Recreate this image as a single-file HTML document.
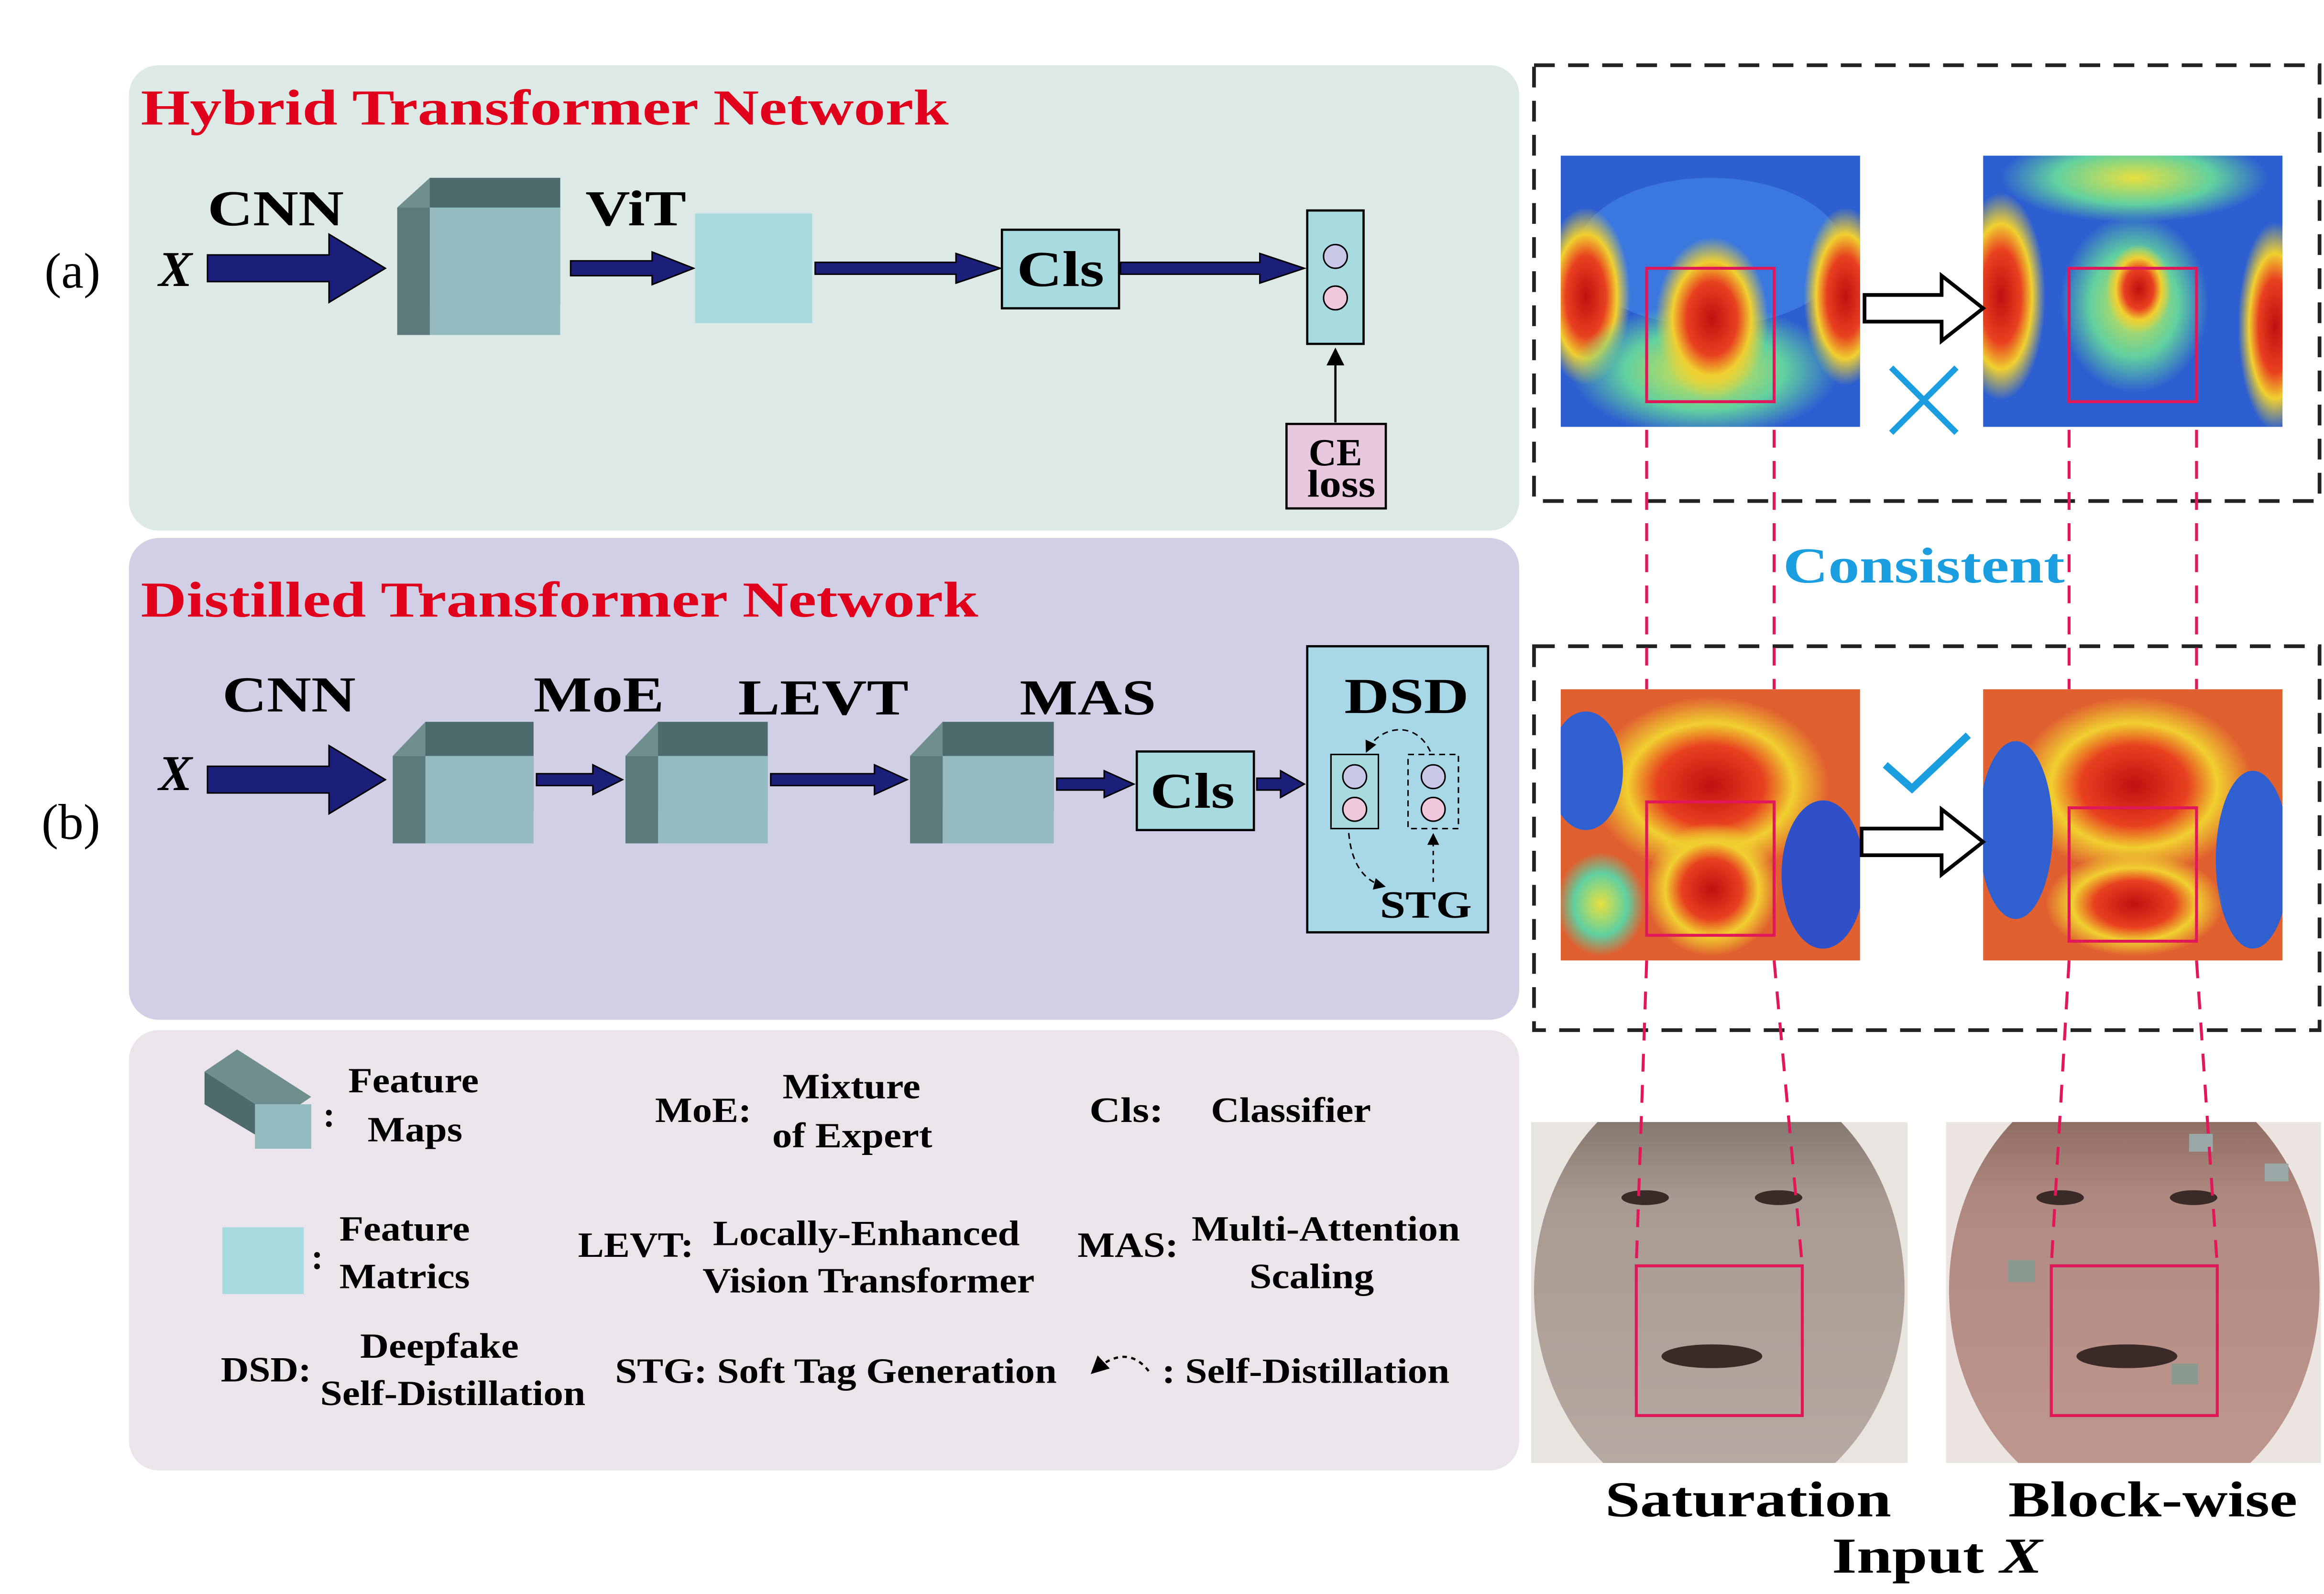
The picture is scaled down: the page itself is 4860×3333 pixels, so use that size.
<!DOCTYPE html>
<html><head><meta charset="utf-8"><style>
html,body{margin:0;padding:0;background:#fff;}
svg{display:block;}
text{font-family:"Liberation Serif",serif;font-weight:bold;}
</style></head><body>
<svg width="4860" height="3333" viewBox="0 0 1568 1075.4" preserveAspectRatio="none" xmlns="http://www.w3.org/2000/svg">
<defs>
<marker id="ah" markerWidth="8" markerHeight="8" refX="7" refY="4" orient="auto"><path d="M0,0 L8,4 L0,8 z" fill="#000"/></marker>
<radialGradient id="hr" cx="50%" cy="50%" r="50%"><stop offset="0" stop-color="#c01010"/><stop offset="0.45" stop-color="#e84020"/><stop offset="0.7" stop-color="#f0d030"/><stop offset="1" stop-color="#f0d030" stop-opacity="0"/></radialGradient>
<radialGradient id="hy" cx="50%" cy="50%" r="50%"><stop offset="0" stop-color="#e8e040"/><stop offset="0.6" stop-color="#60d0a0"/><stop offset="1" stop-color="#60d0a0" stop-opacity="0"/></radialGradient>
<linearGradient id="face" x1="0" y1="0" x2="0" y2="1"><stop offset="0" stop-color="#6e6258"/><stop offset="0.3" stop-color="#a89a90"/><stop offset="1" stop-color="#b8aca4"/></linearGradient>
<linearGradient id="face2" x1="0" y1="0" x2="0" y2="1"><stop offset="0" stop-color="#7a5a50"/><stop offset="0.3" stop-color="#b08a80"/><stop offset="1" stop-color="#c09890"/></linearGradient>
<clipPath id="c1"><rect x="1053" y="105" width="202" height="183"/></clipPath>
<clipPath id="c2"><rect x="1338" y="105" width="202" height="183"/></clipPath>
<clipPath id="c3"><rect x="1053" y="465" width="202" height="183"/></clipPath>
<clipPath id="c4"><rect x="1338" y="465" width="202" height="183"/></clipPath>
<clipPath id="f1"><rect x="1033" y="757" width="254" height="230"/></clipPath>
<clipPath id="f2"><rect x="1313" y="757" width="253" height="230"/></clipPath>
</defs>

<rect x="87" y="44" width="938" height="314" rx="20" fill="#dde9e6"/>
<rect x="87" y="363" width="938" height="325" rx="20" fill="#d1cfe5"/>
<rect x="87" y="695" width="938" height="297" rx="20" fill="#ebe4ea"/>

<text x="95" y="84" font-size="34" fill="#e0001b" textLength="545" lengthAdjust="spacingAndGlyphs">Hybrid Transformer Network</text>
<text x="95" y="416" font-size="34" fill="#e0001b" textLength="565" lengthAdjust="spacingAndGlyphs">Distilled Transformer Network</text>

<text x="30" y="194" font-size="34" style="font-weight:normal">(a)</text>
<text x="28" y="566" font-size="34" style="font-weight:normal">(b)</text>

<!-- panel a -->
<text x="140" y="152" font-size="34" textLength="92" lengthAdjust="spacingAndGlyphs">CNN</text>
<text x="107" y="193" font-size="34" font-style="italic">X</text>
<path d="M140,172 L222,172 L222,158 L260,181 L222,204 L222,190 L140,190 z" fill="#1b1f7a" stroke="#000"/>
<polygon points="268,140 290,120 378,120 356,140" fill="#6f8e8e"/>
<polygon points="290,120 378,120 378,205 290,205" fill="#4d6a6c"/>
<rect x="290" y="140" width="88" height="86" fill="#94bcc0"/>
<polygon points="268,140 290,140 290,226 268,226" fill="#5b7a7c"/>
<text x="395" y="152" font-size="34" textLength="68" lengthAdjust="spacingAndGlyphs">ViT</text>
<path d="M385,176 L440,176 L440,170 L468,181 L440,192 L440,186 L385,186 z" fill="#1b1f7a" stroke="#000"/>
<rect x="469" y="144" width="79" height="74" fill="#a8dbe0"/>
<path d="M550,177 L645,177 L645,171 L675,181 L645,191 L645,185 L550,185 z" fill="#1b1f7a" stroke="#000"/>
<rect x="676" y="155" width="79" height="53" fill="#a8dbe0" stroke="#000" stroke-width="1.5"/>
<text x="686" y="193" font-size="34" textLength="59" lengthAdjust="spacingAndGlyphs">Cls</text>
<path d="M756,177 L850,177 L850,171 L880,181 L850,191 L850,185 L756,185 z" fill="#1b1f7a" stroke="#000"/>
<rect x="882" y="142" width="38" height="90" fill="#a8dbe0" stroke="#000" stroke-width="1.5"/>
<circle cx="901" cy="173" r="8" fill="#c9c8e8" stroke="#000"/>
<circle cx="901" cy="201" r="8" fill="#f0c8dc" stroke="#000"/>
<line x1="901" y1="285" x2="901" y2="236" stroke="#000" stroke-width="1.5" marker-end="url(#ah)"/>
<rect x="868" y="286" width="67" height="57" fill="#e8c8dc" stroke="#000" stroke-width="1.5"/>
<text x="901" y="314" font-size="26" text-anchor="middle">CE</text>
<text x="905" y="335" font-size="26" text-anchor="middle" textLength="46" lengthAdjust="spacingAndGlyphs">loss</text>

<!-- panel b -->
<text x="150" y="480" font-size="34" textLength="90" lengthAdjust="spacingAndGlyphs">CNN</text>
<text x="360" y="480" font-size="34" textLength="88" lengthAdjust="spacingAndGlyphs">MoE</text>
<text x="498" y="482" font-size="34" textLength="115" lengthAdjust="spacingAndGlyphs">LEVT</text>
<text x="688" y="482" font-size="34" textLength="92" lengthAdjust="spacingAndGlyphs">MAS</text>
<text x="107" y="533" font-size="34" font-style="italic">X</text>
<path d="M140,517 L222,517 L222,503 L260,526 L222,549 L222,535 L140,535 z" fill="#1b1f7a" stroke="#000"/>
<g>
<polygon points="265,510 287,487 360,487 338,510" fill="#6f8e8e"/>
<rect x="287" y="487" width="73" height="60" fill="#4d6a6c"/>
<rect x="287" y="510" width="73" height="59" fill="#94bcc0"/>
<polygon points="265,510 287,510 287,569 265,569" fill="#5b7a7c"/>
</g>
<path d="M362,522 L400,522 L400,516 L420,526 L400,536 L400,530 L362,530 z" fill="#1b1f7a" stroke="#000"/>
<g>
<polygon points="422,510 444,487 518,487 496,510" fill="#6f8e8e"/>
<rect x="444" y="487" width="74" height="60" fill="#4d6a6c"/>
<rect x="444" y="510" width="74" height="59" fill="#94bcc0"/>
<polygon points="422,510 444,510 444,569 422,569" fill="#5b7a7c"/>
</g>
<path d="M520,522 L590,522 L590,516 L612,526 L590,536 L590,530 L520,530 z" fill="#1b1f7a" stroke="#000"/>
<g>
<polygon points="614,510 636,487 711,487 689,510" fill="#6f8e8e"/>
<rect x="636" y="487" width="75" height="60" fill="#4d6a6c"/>
<rect x="636" y="510" width="75" height="59" fill="#94bcc0"/>
<polygon points="614,510 636,510 636,569 614,569" fill="#5b7a7c"/>
</g>
<path d="M713,525 L745,525 L745,520 L765,529 L745,538 L745,533 L713,533 z" fill="#1b1f7a" stroke="#000"/>
<rect x="767" y="507" width="79" height="53" fill="#a8dbe0" stroke="#000" stroke-width="1.5"/>
<text x="776" y="545" font-size="34" textLength="57" lengthAdjust="spacingAndGlyphs">Cls</text>
<path d="M848,525 L864,525 L864,520 L880,529 L864,538 L864,533 L848,533 z" fill="#1b1f7a" stroke="#000"/>
<rect x="882" y="436" width="122" height="193" fill="#a8d8e8" stroke="#000" stroke-width="1.5"/>
<text x="907" y="481" font-size="34" textLength="84" lengthAdjust="spacingAndGlyphs">DSD</text>
<rect x="898" y="509" width="32" height="50" fill="#a8dbe0" stroke="#000"/>
<circle cx="914" cy="524" r="8" fill="#c9c8e8" stroke="#000"/>
<circle cx="914" cy="546" r="8" fill="#f0c8dc" stroke="#000"/>
<rect x="950" y="509" width="34" height="50" fill="none" stroke="#000" stroke-dasharray="4,3"/>
<circle cx="967" cy="524" r="8" fill="#c9c8e8" stroke="#000"/>
<circle cx="967" cy="546" r="8" fill="#f0c8dc" stroke="#000"/>
<path d="M965,507 C955,485 930,490 922,507" fill="none" stroke="#000" stroke-dasharray="4,3" marker-end="url(#ah)"/>
<path d="M910,562 C912,585 922,595 934,598" fill="none" stroke="#000" stroke-dasharray="4,3" marker-end="url(#ah)"/>
<line x1="967" y1="595" x2="967" y2="563" stroke="#000" stroke-dasharray="3,3" marker-end="url(#ah)"/>
<text x="931" y="619" font-size="26" textLength="62" lengthAdjust="spacingAndGlyphs">STG</text>

<!-- legend -->
<polygon points="138,723 160,708 210,740 188,755" fill="#6f8e8e"/>
<polygon points="138,723 188,755 188,775 138,745" fill="#4d6a6c"/>
<rect x="172" y="745" width="38" height="30" fill="#94bcc0"/>
<rect x="150" y="828" width="55" height="45" fill="#a8dbe0"/>
<g font-size="24" lengthAdjust="spacingAndGlyphs">
<text x="218" y="760">:</text>
<text x="235" y="737" textLength="88" lengthAdjust="spacingAndGlyphs">Feature</text>
<text x="248" y="770" textLength="64" lengthAdjust="spacingAndGlyphs">Maps</text>
<text x="442" y="757" textLength="65" lengthAdjust="spacingAndGlyphs">MoE:</text>
<text x="528" y="741" textLength="93" lengthAdjust="spacingAndGlyphs">Mixture</text>
<text x="521" y="774" textLength="108" lengthAdjust="spacingAndGlyphs">of Expert</text>
<text x="735" y="757" textLength="50" lengthAdjust="spacingAndGlyphs">Cls:</text>
<text x="817" y="757" textLength="108" lengthAdjust="spacingAndGlyphs">Classifier</text>
<text x="210" y="856">:</text>
<text x="229" y="837" textLength="88" lengthAdjust="spacingAndGlyphs">Feature</text>
<text x="229" y="869" textLength="88" lengthAdjust="spacingAndGlyphs">Matrics</text>
<text x="390" y="848" textLength="78" lengthAdjust="spacingAndGlyphs">LEVT:</text>
<text x="481" y="840" textLength="207" lengthAdjust="spacingAndGlyphs">Locally-Enhanced</text>
<text x="474" y="872" textLength="224" lengthAdjust="spacingAndGlyphs">Vision Transformer</text>
<text x="727" y="848" textLength="68" lengthAdjust="spacingAndGlyphs">MAS:</text>
<text x="804" y="837" textLength="181" lengthAdjust="spacingAndGlyphs">Multi-Attention</text>
<text x="843" y="869" textLength="84" lengthAdjust="spacingAndGlyphs">Scaling</text>
<text x="149" y="932" textLength="61" lengthAdjust="spacingAndGlyphs">DSD:</text>
<text x="243" y="916" textLength="107" lengthAdjust="spacingAndGlyphs">Deepfake</text>
<text x="216" y="948" textLength="179" lengthAdjust="spacingAndGlyphs">Self-Distillation</text>
<text x="415" y="933" textLength="298" lengthAdjust="spacingAndGlyphs">STG: Soft Tag Generation</text>
<text x="784" y="933" textLength="194" lengthAdjust="spacingAndGlyphs">: Self-Distillation</text>
</g>
<path d="M775,925 C765,912 752,912 737,926" fill="none" stroke="#000" stroke-dasharray="3,3" stroke-width="1.5" marker-end="url(#ah)"/>

<!-- dashed boxes -->
<rect x="1035" y="44" width="530" height="294" fill="none" stroke="#222" stroke-width="2.5" stroke-dasharray="14,9"/>
<rect x="1035" y="436" width="530" height="259" fill="none" stroke="#222" stroke-width="2.5" stroke-dasharray="14,9"/>

<!-- heatmaps -->
<g clip-path="url(#c1)">
<rect x="1053" y="105" width="202" height="183" fill="#2e5fd0"/>
<ellipse cx="1154" cy="170" rx="90" ry="50" fill="#3a78e0"/>
<ellipse cx="1070" cy="200" rx="30" ry="60" fill="url(#hr)"/>
<ellipse cx="1245" cy="200" rx="28" ry="60" fill="url(#hr)"/>
<ellipse cx="1150" cy="250" rx="90" ry="45" fill="url(#hy)"/>
<ellipse cx="1155" cy="215" rx="38" ry="55" fill="url(#hr)"/>
</g>
<g clip-path="url(#c2)">
<rect x="1338" y="105" width="202" height="183" fill="#2e5fd0"/>
<ellipse cx="1440" cy="120" rx="90" ry="30" fill="url(#hy)"/>
<ellipse cx="1350" cy="200" rx="30" ry="70" fill="url(#hr)"/>
<ellipse cx="1535" cy="220" rx="25" ry="70" fill="url(#hr)"/>
<ellipse cx="1440" cy="205" rx="50" ry="60" fill="url(#hy)"/>
<ellipse cx="1443" cy="195" rx="22" ry="30" fill="url(#hr)"/>
</g>
<g clip-path="url(#c3)">
<rect x="1053" y="465" width="202" height="183" fill="#e06030"/>
<ellipse cx="1154" cy="530" rx="80" ry="60" fill="url(#hr)"/>
<ellipse cx="1070" cy="520" rx="25" ry="40" fill="#3060d0"/>
<ellipse cx="1230" cy="590" rx="28" ry="50" fill="#2f50c8"/>
<ellipse cx="1080" cy="610" rx="30" ry="35" fill="url(#hy)"/>
<ellipse cx="1155" cy="600" rx="45" ry="45" fill="url(#hr)"/>
</g>
<g clip-path="url(#c4)">
<rect x="1338" y="465" width="202" height="183" fill="#e06030"/>
<ellipse cx="1440" cy="530" rx="80" ry="60" fill="url(#hr)"/>
<ellipse cx="1360" cy="560" rx="25" ry="60" fill="#3060d0"/>
<ellipse cx="1520" cy="580" rx="25" ry="60" fill="#3060d0"/>
<ellipse cx="1440" cy="610" rx="60" ry="35" fill="url(#hr)"/>
</g>

<path d="M1258,199 L1310,199 L1310,186 L1338,208 L1310,230 L1310,217 L1258,217 z" fill="#fff" stroke="#000" stroke-width="2.5"/>
<path d="M1256,559 L1310,559 L1310,546 L1338,568 L1310,590 L1310,577 L1256,577 z" fill="#fff" stroke="#000" stroke-width="2.5"/>
<line x1="1276" y1="248" x2="1320" y2="292" stroke="#1a9ee0" stroke-width="4"/>
<line x1="1320" y1="248" x2="1276" y2="292" stroke="#1a9ee0" stroke-width="4"/>
<polyline points="1272,516 1290,532 1328,496" fill="none" stroke="#1a9ee0" stroke-width="5"/>

<text x="1203" y="393" font-size="34" fill="#1a9ee0" textLength="190" lengthAdjust="spacingAndGlyphs">Consistent</text>

<!-- faces -->
<g clip-path="url(#f1)">
<rect x="1033" y="757" width="254" height="230" fill="#e8e4e0"/>
<ellipse cx="1160" cy="870" rx="125" ry="150" fill="url(#face)"/>
</g>
<g clip-path="url(#f2)">
<rect x="1313" y="757" width="253" height="230" fill="#ece4e0"/>
<ellipse cx="1440" cy="870" rx="125" ry="150" fill="url(#face2)"/>
</g>
<g fill="#3a2a28">
<ellipse cx="1110" cy="808" rx="16" ry="5"/><ellipse cx="1200" cy="808" rx="16" ry="5"/>
<ellipse cx="1155" cy="915" rx="34" ry="8"/>
<ellipse cx="1390" cy="808" rx="16" ry="5"/><ellipse cx="1480" cy="808" rx="16" ry="5"/>
<ellipse cx="1435" cy="915" rx="34" ry="8"/>
</g>
<rect x="1355" y="850" width="18" height="15" fill="#8a9a90"/>
<rect x="1465" y="920" width="18" height="14" fill="#8a9a90"/>
<rect x="1477" y="765" width="16" height="12" fill="#9aa8a8"/>
<rect x="1528" y="785" width="16" height="12" fill="#9aa8a8"/>

<g fill="none" stroke="#e0185a" stroke-width="2">
<rect x="1111" y="181" width="86" height="90"/>
<rect x="1396" y="181" width="86" height="90"/>
<rect x="1111" y="541" width="86" height="90"/>
<rect x="1396" y="545" width="86" height="90"/>
<rect x="1104" y="854" width="112" height="101"/>
<rect x="1384" y="854" width="112" height="101"/>
</g>
<g stroke="#e0185a" stroke-width="2" stroke-dasharray="12,9">
<line x1="1111" y1="290" x2="1111" y2="465"/><line x1="1197" y1="290" x2="1197" y2="465"/>
<line x1="1396" y1="290" x2="1396" y2="465"/><line x1="1482" y1="290" x2="1482" y2="465"/>
<line x1="1111" y1="648" x2="1104" y2="854"/><line x1="1197" y1="648" x2="1216" y2="854"/>
<line x1="1396" y1="648" x2="1384" y2="854"/><line x1="1482" y1="648" x2="1496" y2="854"/>
</g>

<text x="1083" y="1023" font-size="34" textLength="193" lengthAdjust="spacingAndGlyphs">Saturation</text>
<text x="1355" y="1023" font-size="34" textLength="195" lengthAdjust="spacingAndGlyphs">Block-wise</text>
<text x="1236" y="1061" font-size="34" textLength="142" lengthAdjust="spacingAndGlyphs">Input <tspan font-style="italic">X</tspan></text>
</svg>
</body></html>
